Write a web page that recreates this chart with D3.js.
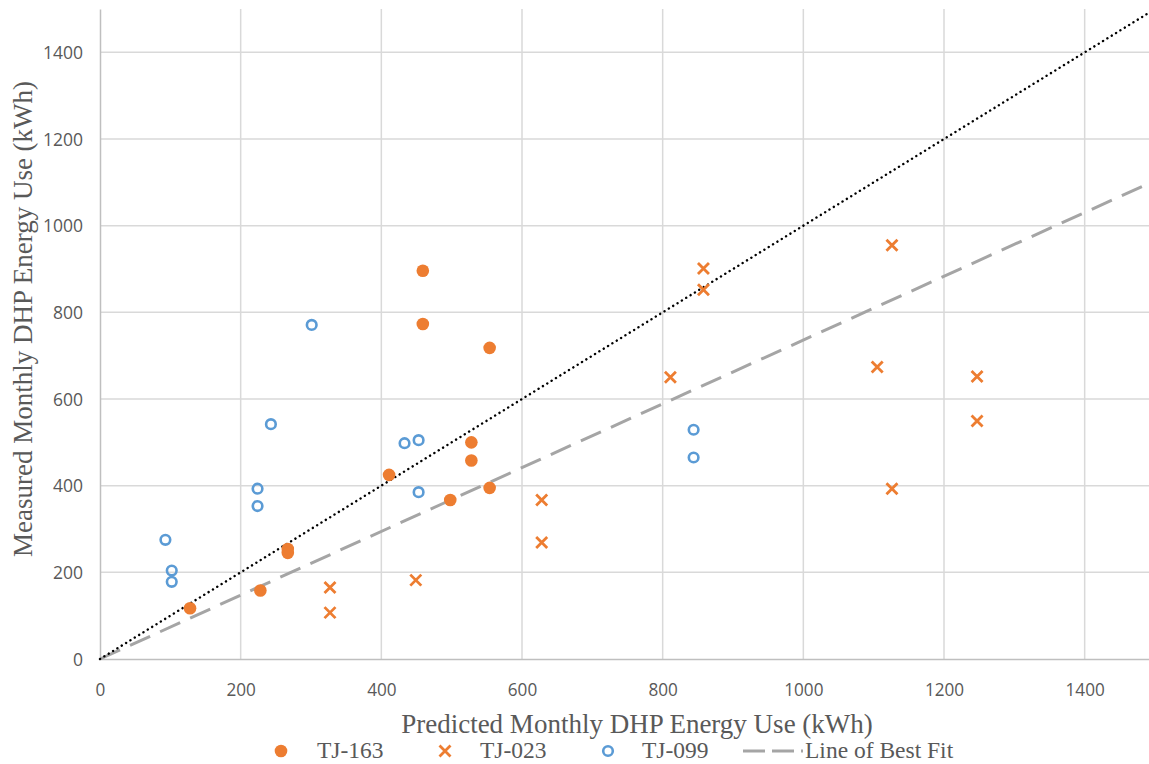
<!DOCTYPE html>
<html>
<head>
<meta charset="utf-8">
<script src="https://cdn.jsdelivr.net/npm/d3@7"></script>
<style>
  body { margin: 0; background: #fff; }
  svg { display: block; }
</style>
</head>
<body>
<svg></svg>
<script>
// TJ-163 : [predicted, measured]
let tj163 = [
  [ 459, 896 ], [ 459, 773 ], [ 554, 718 ], [ 528, 500 ], [ 528, 458 ],
  [ 411, 425 ], [ 554, 395 ], [ 498, 367 ], [ 267, 254 ], [ 267, 245 ],
  [ 228, 158 ], [ 128, 117 ]
]
let tj023 = [
  [ 1126, 955 ], [ 858, 901 ], [ 858, 852 ], [ 811, 650 ], [ 1105, 674 ],
  [ 1247, 652 ], [ 1247, 549 ], [ 1126, 393 ], [ 628, 367 ], [ 628, 269 ],
  [ 327, 165 ], [ 327, 107 ], [ 449, 182 ]
]
let tj099 = [
  [ 301, 771 ], [ 243, 542 ], [ 433, 498 ], [ 453, 505 ], [ 453, 385 ],
  [ 224, 393 ], [ 224, 353 ], [ 93, 275 ], [ 102, 204 ], [ 102, 178 ],
  [ 844, 529 ], [ 844, 465 ]
]
let bestFit = [ [ 0, 0 ], [ 1500, 1104 ] ]
let oneToOne = [ [ 0, 0 ], [ 1500, 1500 ] ]
let ticks = [ 0, 200, 400, 600, 800, 1000, 1200, 1400 ]
let legendItems = [ 'TJ-163', 'TJ-023', 'TJ-099', 'Line of Best Fit' ]

let width = 1149
let height = 764
let orange = '#ED7D31'
let blue = '#5B9BD5'
let textGrey = '#595959'

const x =
d3.scaleLinear()
  .domain( [ 0, 1500 ] )
  .range( [ 100, 1155 ] )

const y =
d3.scaleLinear()
  .domain( [ 0, 1500 ] )
  .range( [ 659, 9 ] )

let svg =
d3.select( 'svg' )
  .attr( 'width', width )
  .attr( 'height', height )

// grid
svg.append( 'g' ).selectAll( 'line' )
  .data( ticks.slice( 1 ) )
  .enter().append( 'line' )
  .attr( 'x1', d => x( d ) ).attr( 'x2', d => x( d ) )
  .attr( 'y1', y( 1500 ) ).attr( 'y2', y( 0 ) )
  .attr( 'stroke', '#d9d9d9' ).attr( 'stroke-width', 1.5 )

svg.append( 'g' ).selectAll( 'line' )
  .data( ticks.slice( 1 ) )
  .enter().append( 'line' )
  .attr( 'x1', x( 0 ) ).attr( 'x2', width )
  .attr( 'y1', d => y( d ) ).attr( 'y2', d => y( d ) )
  .attr( 'stroke', '#d9d9d9' ).attr( 'stroke-width', 1.5 )

// axes
let xAxis = svg.append( 'g' )
  .attr( 'transform', `translate(0,${ y( 0 ) })` )
  .call( d3.axisBottom( x ).tickValues( ticks ).tickFormat( d3.format( 'd' ) ).tickSize( 0 ).tickPadding( 0 ) )
let yAxis = svg.append( 'g' )
  .attr( 'transform', `translate(${ x( 0 ) },0)` )
  .call( d3.axisLeft( y ).tickValues( ticks ).tickFormat( d3.format( 'd' ) ).tickSize( 0 ).tickPadding( 17 ) )

xAxis.select( '.domain' ).attr( 'stroke', '#bfbfbf' ).attr( 'stroke-width', 1.5 )
yAxis.select( '.domain' ).attr( 'stroke', '#bfbfbf' ).attr( 'stroke-width', 1.5 )
svg.selectAll( '.tick text' )
  .attr( 'fill', textGrey )
  .style( 'font-family', 'Open Sans, sans-serif' )
yAxis.selectAll( '.tick text' )
  .attr( 'dy', '0.36em' )
  .style( 'font-size', '17.5px' )
xAxis.selectAll( '.tick text' )
  .attr( 'dy', null )
  .attr( 'y', 37 )
  .attr( 'textLength', function() { return this.textContent.length * 9.8 } )
  .attr( 'lengthAdjust', 'spacingAndGlyphs' )
  .style( 'font-size', '18px' )

// reference lines
let line = d3.line().x( d => x( d[ 0 ] ) ).y( d => y( d[ 1 ] ) )

svg.append( 'path' )
  .datum( bestFit )
  .attr( 'd', line )
  .attr( 'fill', 'none' )
  .attr( 'stroke', '#a5a5a5' )
  .attr( 'stroke-width', 3 )
  .attr( 'stroke-dasharray', '22,11' )

svg.append( 'path' )
  .datum( oneToOne )
  .attr( 'd', line )
  .attr( 'fill', 'none' )
  .attr( 'stroke', '#000' )
  .attr( 'stroke-width', 2.4 )
  .attr( 'stroke-linecap', 'round' )
  .attr( 'stroke-dasharray', '0.1,5' )

// markers
svg.append( 'g' ).selectAll( 'circle' )
  .data( tj163 )
  .enter().append( 'circle' )
  .attr( 'cx', d => x( d[ 0 ] ) )
  .attr( 'cy', d => y( d[ 1 ] ) )
  .attr( 'r', 6.3 )
  .attr( 'fill', orange )

let cross = 'M-5.5,-5.5L5.5,5.5M-5.5,5.5L5.5,-5.5'
svg.append( 'g' ).selectAll( 'path' )
  .data( tj023 )
  .enter().append( 'path' )
  .attr( 'd', cross )
  .attr( 'transform', d => `translate(${ x( d[ 0 ] ) },${ y( d[ 1 ] ) })` )
  .attr( 'stroke', orange )
  .attr( 'stroke-width', 2.8 )

svg.append( 'g' ).selectAll( 'circle' )
  .data( tj099 )
  .enter().append( 'circle' )
  .attr( 'cx', d => x( d[ 0 ] ) )
  .attr( 'cy', d => y( d[ 1 ] ) )
  .attr( 'r', 4.8 )
  .attr( 'fill', 'none' )
  .attr( 'stroke', blue )
  .attr( 'stroke-width', 2.6 )

// axis titles
let serif = 'Liberation Serif, Times New Roman, serif'
svg.append( 'text' )
  .text( 'Predicted Monthly DHP Energy Use (kWh)' )
  .attr( 'x', 637 ).attr( 'y', 733 )
  .attr( 'text-anchor', 'middle' )
  .attr( 'fill', textGrey )
  .style( 'font-family', serif ).style( 'font-size', '27px' )

svg.append( 'text' )
  .text( 'Measured Monthly DHP Energy Use (kWh)' )
  .attr( 'transform', 'translate(32,319) rotate(-90)' )
  .attr( 'text-anchor', 'middle' )
  .attr( 'fill', textGrey )
  .style( 'font-family', serif ).style( 'font-size', '27px' )

// legend
let legendX = [ 281, 445, 608, 743 ]
let textX = [ 317, 480, 642, 805 ]
let legendY = 751
let legend = svg.append( 'g' )

legend.append( 'circle' )
  .attr( 'cx', legendX[ 0 ] ).attr( 'cy', legendY ).attr( 'r', 6.3 )
  .attr( 'fill', orange )
legend.append( 'path' )
  .attr( 'd', cross )
  .attr( 'transform', `translate(${ legendX[ 1 ] },${ legendY })` )
  .attr( 'stroke', orange ).attr( 'stroke-width', 2.8 )
legend.append( 'circle' )
  .attr( 'cx', legendX[ 2 ] ).attr( 'cy', legendY ).attr( 'r', 4.8 )
  .attr( 'fill', 'none' ).attr( 'stroke', blue ).attr( 'stroke-width', 2.6 )
legend.append( 'line' )
  .attr( 'x1', legendX[ 3 ] ).attr( 'x2', textX[ 3 ] - 2 )
  .attr( 'y1', legendY ).attr( 'y2', legendY )
  .attr( 'stroke', '#a5a5a5' ).attr( 'stroke-width', 3 )
  .attr( 'stroke-dasharray', '22,7' )

legend.selectAll( 'text' )
  .data( legendItems )
  .enter().append( 'text' )
  .text( d => d )
  .attr( 'x', ( d, i ) => textX[ i ] )
  .attr( 'y', legendY + 7 )
  .attr( 'fill', textGrey )
  .style( 'font-family', serif ).style( 'font-size', '23.5px' )
</script>
</body>
</html>
